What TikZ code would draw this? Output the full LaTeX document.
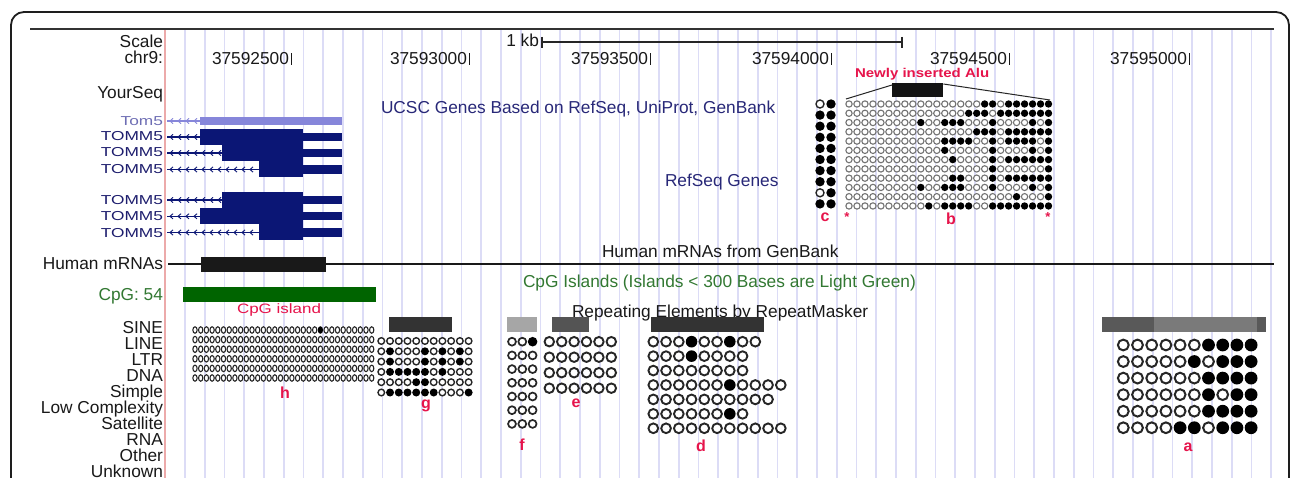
\documentclass[tikz,border=0pt]{standalone}
\usepackage{fontspec}
\setmainfont{Liberation Sans}
\newcommand\fsz[1]{\fontsize{#1}{#1}\selectfont}
\newcommand\vsq[2]{\scalebox{1}[#1]{#2}}
\newcommand\tickmark{\hspace{1.6pt}\rule{1.3pt}{12.4pt}}
\definecolor{gridc}{RGB}{220,220,246}
\definecolor{pinkc}{RGB}{236,170,170}
\definecolor{navy}{RGB}{11,22,117}
\definecolor{tomc}{RGB}{134,134,218}
\definecolor{tomtxt}{RGB}{110,110,180}
\definecolor{genetxt}{RGB}{30,30,110}
\definecolor{ucsc}{RGB}{40,40,120}
\definecolor{cpgtxt}{RGB}{50,120,50}
\definecolor{cpgbox}{RGB}{0,100,0}
\definecolor{redl}{RGB}{230,20,75}
\definecolor{txt}{RGB}{25,25,25}
\definecolor{framec}{RGB}{30,30,30}
\tikzset{
  lab/.style={inner sep=0pt, outer sep=0pt, font=\fsz{17.3}, text=txt},
  redlab/.style={inner sep=0pt, outer sep=0pt, font=\fsz{16}\bfseries, text=redl},
  gridl/.style={draw=gridc, line width=1.6},
  dotblack/.style={fill=black},
  ringgray/.style={draw=black!55},
  ringdark/.style={draw=black!85},
}
% x0,dx,y0,dy,rx,ry,lw,ringstyle,rows
\newcommand\dotgrid[9]{%
 \foreach \rw [count=\rr from 0] in {#9}{%
   \foreach \vv [count=\ci from 0] in \rw {%
     \ifnum\vv=1
       \fill[dotblack] ({#1+\ci*#2},{#3+\rr*#4}) ellipse[x radius=#5, y radius=#6];
     \else
       \draw[#8, line width=#7, fill=white] ({#1+\ci*#2},{#3+\rr*#4}) ellipse[x radius={#5-#7/2}, y radius={#6-#7/2}];
     \fi}}}
% yc, xstart, colour
\newcommand\generow[3]{%
  \draw[#3, line width=1.1] (167,#1) -- (#2,#1);
  \pgfmathtruncatemacro\nch{(#2-172)/8}
  \foreach \kk in {0,...,\nch}{\draw[#3, line width=0.9] ({173+8*\kk},{#1-2.6}) -- ({170+8*\kk},#1) -- ({173+8*\kk},{#1+2.6});}
  \fill[#3] (#2,{#1-8}) rectangle (303,{#1+8});
  \fill[#3] (303,{#1-4.2}) rectangle (342,{#1+4.2});}
\begin{document}
\begin{tikzpicture}[x=1pt,y=-1pt]
\useasboundingbox (0,0) rectangle (1290,478);
\clip (0,0) rectangle (1290,478);
\fill[white] (0,0) rectangle (1290,478);
% grid
\foreach \k in {0,...,55} \draw[gridl] ({185+19.75*\k},29) -- ({185+19.75*\k},478);
\draw[pinkc, line width=1.3] (165,29) -- (165,478);
% frame
\draw[line width=1.8, draw=framec, rounded corners=13pt] (11,520) -- (11,12) -- (1289,12) -- (1289,520);
\draw[line width=1.5, draw=black!80] (30,29) -- (1274,29);

% left labels
\node[lab, anchor=base east] (lscale) at (163,48) {Scale};
\node[lab, anchor=base east] (lchr) at (163,64) {chr9:};
\node[lab, anchor=base east] (lyour) at (163,99) {YourSeq};
\node[lab, anchor=base east, text=tomtxt] (ltom) at (163,126) {\vsq{0.75}{Tom5}};
\node[lab, anchor=base east, text=genetxt] (lg1) at (163,140.5) {\vsq{0.75}{TOMM5}};
\node[lab, anchor=base east, text=genetxt] (lg2) at (163,157) {\vsq{0.75}{TOMM5}};
\node[lab, anchor=base east, text=genetxt] (lg3) at (163,173.5) {\vsq{0.75}{TOMM5}};
\node[lab, anchor=base east, text=genetxt] (lg4) at (163,205) {\vsq{0.75}{TOMM5}};
\node[lab, anchor=base east, text=genetxt] (lg5) at (163,221) {\vsq{0.75}{TOMM5}};
\node[lab, anchor=base east, text=genetxt] (lg6) at (163,237.5) {\vsq{0.75}{TOMM5}};
\node[lab, anchor=base east] (lhm) at (163,270) {Human mRNAs};
\node[lab, anchor=base east, text=cpgtxt] (lcpg) at (163,301) {CpG: 54};
\foreach \t [count=\k from 0] in {SINE,LINE,LTR,DNA,Simple,Low Complexity,Satellite,RNA,Other,Unknown}
  \node[lab, anchor=base east] (rep\k) at (163,{333+16.1*\k}) {\t};

% positions
\node[lab, anchor=base west] (p1) at (212,65) {37592500\tickmark};
\node[lab, anchor=base west] (p2) at (390,65) {37593000\tickmark};
\node[lab, anchor=base west] (p3) at (571,65) {37593500\tickmark};
\node[lab, anchor=base west] (p4) at (752,65) {37594000\tickmark};
\node[lab, anchor=base west] (p5) at (930,65) {37594500\tickmark};
\node[lab, anchor=base west] (p6) at (1110,65) {37595000\tickmark};
% scale bar
\node[lab, anchor=base east] (kb) at (539,47) {1 kb};
\coordinate (sbL) at (542,42);
\coordinate (sbR) at (902,42);
\draw[line width=1.1, black!85] (sbL) -- (sbR);
\draw[line width=1.3, black!85] ([yshift=5pt]sbL) -- ([yshift=-6pt]sbL);
\draw[line width=1.3, black!85] ([yshift=5pt]sbR) -- ([yshift=-6pt]sbR);

% track titles
\node[lab, anchor=base west, text=ucsc] (tucsc) at (381,114) {UCSC Genes Based on RefSeq, UniProt, GenBank};
\node[lab, anchor=base west, text=ucsc] (tref) at (665,187) {RefSeq Genes};
\node[lab, anchor=base west] (thm) at (602,257.5) {Human mRNAs from GenBank};
\node[lab, anchor=base west, text=cpgtxt] (tcpg) at (523,287.5) {CpG Islands (Islands < 300 Bases are Light Green)};
\node[lab, anchor=base west] (trep) at (572,317.5) {Repeating Elements by RepeatMasker};

% genes
\draw[tomc, line width=1.1] (167,121) -- (200,121);
\foreach \kk in {0,...,3}{\draw[tomc, line width=0.9] ({173+8*\kk},118.4) -- ({170+8*\kk},121) -- ({173+8*\kk},123.6);}
\fill[tomc] (200,117) rectangle (342,125.5);
\generow{137}{200}{navy}
\generow{153}{222}{navy}
\generow{169.5}{259}{navy}
\generow{200}{222}{navy}
\generow{216.3}{200}{navy}
\generow{232.5}{259}{navy}

% human mRNA
\coordinate (hmL) at (168,264);
\coordinate (hmR) at (1274,264);
\draw[line width=1.2, black!90] (hmL) -- (hmR);
\fill[black!90] (201,257) rectangle (326,272);
% CpG
\fill[cpgbox] (183,287) rectangle (376,302);
\node[lab, anchor=base west, text=redl, font=\fsz{17}] (cpgisl) at (237,313) {\vsq{0.8}{CpG island}};

% Alu
\node[redlab, anchor=base west, font=\fsz{15}\bfseries] (alutxt) at (855,78) {\vsq{0.85}{Newly inserted Alu}};
\node[fill=black!92, minimum width=51pt, minimum height=14pt, inner sep=0pt, anchor=north west] (alu) at (892,83) {};
\coordinate (bTL) at (846,99);
\coordinate (bTR) at (1050,100);
\draw[line width=1, black!85] ([yshift=-2pt]alu.north west) -- (bTL);
\draw[line width=1, black!85] ([yshift=-1pt]alu.north east) -- (bTR);

% plot b
\dotgrid{849}{7.98}{104}{9.27}{3.7}{3.7}{1.1}{ringgray}{%
{0,0,0,0,0,0,0,0,0,0,0,0,0,0,0,0,0,1,1,0,1,1,1,1,1,1},
{0,0,0,0,0,0,0,0,0,0,0,0,0,0,0,1,1,1,0,1,1,1,1,1,1,1},
{0,0,0,0,0,0,0,0,0,1,0,0,1,1,1,0,0,0,1,0,0,0,0,1,0,1},
{0,0,0,0,0,0,0,0,0,0,0,0,0,0,0,0,1,1,1,0,1,1,1,1,1,1},
{0,0,0,0,0,0,0,0,0,0,0,0,1,1,1,1,0,0,1,0,1,1,1,1,0,1},
{0,0,0,0,0,0,0,0,0,0,0,0,1,0,0,0,0,0,1,0,0,0,0,1,0,1},
{0,0,0,0,0,0,0,0,0,0,0,0,0,1,0,0,0,0,1,0,1,1,1,1,1,1},
{0,0,0,0,0,0,0,0,0,0,0,0,0,0,0,0,0,0,1,0,0,0,0,0,0,1},
{0,0,0,0,0,0,0,0,0,0,0,0,0,1,1,0,0,0,1,0,1,1,1,1,1,1},
{0,0,0,0,0,0,0,0,0,1,0,0,1,1,1,0,0,0,1,0,0,0,0,1,0,1},
{0,0,0,0,0,0,0,0,0,0,0,0,0,0,0,0,0,0,0,0,0,1,0,0,0,1},
{0,0,0,0,0,0,0,0,0,0,1,0,1,1,1,1,0,0,1,1,1,1,1,1,1,1}}
% plot c
\dotgrid{820}{11}{104}{11.1}{4.7}{4.7}{1.4}{ringdark}{%
{0,1},{1,1},{1,1},{1,1},{1,1},{1,1},{1,1},{1,1},{0,1},{1,1}}
\node[redlab, anchor=base] (lc) at (825,222) {c};
\node[redlab, anchor=base] (lb) at (951,225) {b};
\node[redlab, font=\fsz{13}\bfseries] (st1) at (847,217) {*};
\node[redlab, font=\fsz{13}\bfseries] (st2) at (1048,217) {*};

% plot h
\dotgrid{195}{5.7}{330}{9.6}{2.7}{3.8}{1.1}{ringdark}{%
{0,0,0,0,0,0,0,0,0,0,0,0,0,0,0,0,0,0,0,0,0,0,1,0,0,0,0,0,0,0,0,0},
{0,0,0,0,0,0,0,0,0,0,0,0,0,0,0,0,0,0,0,0,0,0,0,0,0,0,0,0,0,0,0,0},
{0,0,0,0,0,0,0,0,0,0,0,0,0,0,0,0,0,0,0,0,0,0,0,0,0,0,0,0,0,0,0,0},
{0,0,0,0,0,0,0,0,0,0,0,0,0,0,0,0,0,0,0,0,0,0,0,0,0,0,0,0,0,0,0,0},
{0,0,0,0,0,0,0,0,0,0,0,0,0,0,0,0,0,0,0,0,0,0,0,0,0,0,0,0,0,0,0,0},
{0,0,0,0,0,0,0,0,0,0,0,0,0,0,0,0,0,0,0,0,0,0,0,0,0,0,0,0,0,0,0,0}}
\node[redlab, anchor=base] (lh) at (285,398) {h};

% plot g
\fill[black!80] (389,317) rectangle (452,332);
\dotgrid{381.3}{8.73}{341}{10.3}{4}{4}{1.4}{ringdark}{%
{0,0,0,0,0,0,0,0,0,0,0},
{0,1,0,0,0,1,0,1,0,1,0},
{0,1,0,0,0,1,0,1,0,1,0},
{0,1,1,1,1,1,0,1,0,0,0},
{0,0,0,0,1,1,0,0,0,0,0},
{0,1,1,1,1,1,1,0,0,0,1}}
\node[redlab, anchor=base] (lgg) at (426,408) {g};

% plot f
\fill[black!35] (507,317) rectangle (537,332);
\dotgrid{512}{10.3}{341.7}{13.7}{4.8}{4.8}{1.7}{ringdark}{%
{0,0,1},{0,0,0},{0,0,0},{0,0,0},{0,0,0},{0,0,0},{0,0,0}}
\node[redlab, anchor=base] (lf) at (522,450) {f};

% plot e
\fill[black!67] (552,317) rectangle (589,332);
\dotgrid{549.3}{12.4}{341.7}{15.5}{5.7}{5.7}{1.9}{ringdark}{%
{0,0,0,0,0,0},{0,0,0,0,0,0},{0,0,0,0,0,0},{0,0,0,0,0,0}}
\node[redlab, anchor=base] (le) at (576,407) {e};

% plot d
\fill[black!80] (651,317) rectangle (764,332);
\dotgrid{653.3}{12.75}{341.7}{14.43}{5.8}{5.8}{1.9}{ringdark}{%
{0,0,0,1,0,0,1,0,0},
{0,0,0,1,0,0,0,0},
{0,0,0,0,0,0,0,0},
{0,0,0,0,0,0,1,0,0,0,0},
{0,0,0,0,0,0,0,0,0,0},
{0,0,0,0,0,0,1,0},
{0,0,0,0,0,0,0,0,0,0,0}}
\node[redlab, anchor=base] (ld) at (701,451) {d};

% plot a
\fill[black!65] (1102,317) rectangle (1154,332);
\fill[black!52] (1154,317) rectangle (1257,332);
\fill[black!65] (1257,317) rectangle (1266,332);
\dotgrid{1123.3}{14.2}{345}{16.55}{6.4}{6.4}{2}{ringdark}{%
{0,0,0,0,0,0,1,1,1,1},
{0,0,0,0,0,1,0,1,1,1},
{0,0,0,0,0,0,1,1,1,1},
{0,0,0,0,0,0,1,0,1,1},
{0,0,0,0,0,0,1,1,1,1},
{0,0,0,0,1,1,0,1,1,1}}
\node[redlab, anchor=base] (la) at (1188,451) {a};
\end{tikzpicture}
\end{document}
